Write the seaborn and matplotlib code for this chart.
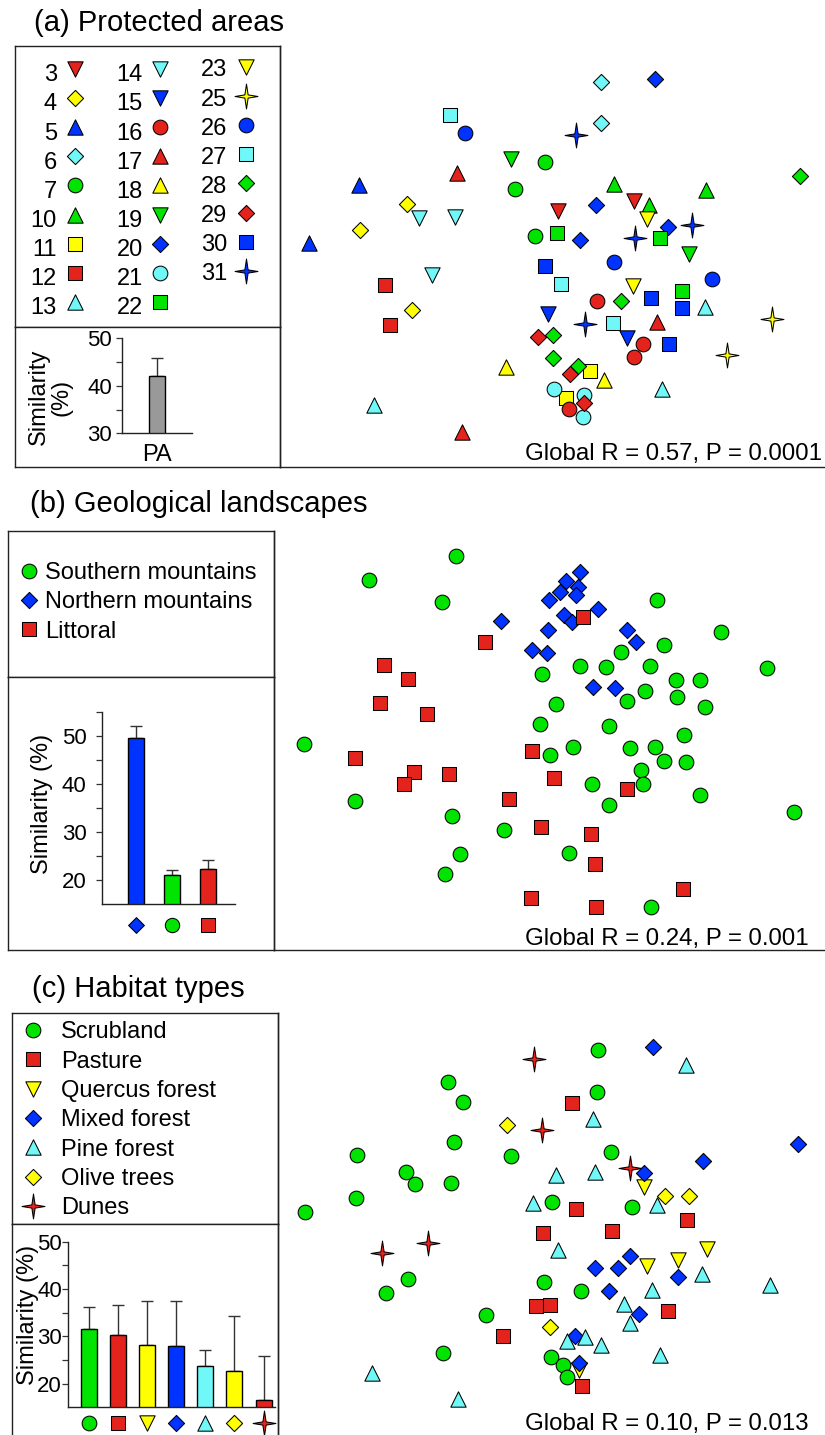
import numpy as np
import pandas as pd
import matplotlib
matplotlib.use('Agg')
import matplotlib.pyplot as plt
from matplotlib.path import Path
import seaborn as sns

# ---------------- data ----------------
# (a) protected areas: site label per point and nMDS coordinates
pa_labels = ['3', '4', '5', '6', '7', '10', '11', '12', '13', '14', '15', '16', '17',
             '18', '19', '20', '21', '22', '23', '25', '26', '27', '28', '29', '30', '31']
pa_site = ['3', '3', '4', '4', '4', '5', '5', '6', '6', '7', '7', '7', '10', '10', '10',
           '11', '11', '12', '12', '13', '13', '13', '14', '14', '14', '15', '15',
           '16', '16', '16', '16', '17', '17', '17', '18', '18', '19', '19',
           '20', '20', '20', '20', '21', '21', '21', '22', '22', '22', '23', '23',
           '25', '25', '26', '26', '26', '27', '27', '27', '28', '28', '28', '28', '28',
           '29', '29', '29', '30', '30', '30', '30', '31', '31', '31', '31']
pa_x = [2.78, 3.54, 1.27, 0.80, 1.32, 0.79, 0.29, 3.21, 3.21, 2.65, 2.35, 2.55, 3.34, 4.26, 3.69,
        3.10, 2.86, 1.05, 1.10, 4.25, 3.82, 0.94, 1.39, 1.75, 1.52, 2.68, 3.47,
        3.17, 3.63, 3.54, 2.89, 1.77, 3.77, 1.82, 2.26, 3.24, 2.31, 4.09,
        3.75, 3.16, 3.88, 3.00, 2.74, 3.04, 3.03, 2.77, 3.80, 4.02, 3.67, 3.53,
        4.92, 4.47, 1.85, 3.34, 4.32, 1.70, 2.81, 3.33, 5.20, 3.41, 2.73, 2.73, 2.98,
        2.58, 2.90, 3.04, 2.65, 3.71, 4.02, 3.89, 2.96, 4.12, 3.55, 3.05]
pa_y = [2.56, 2.66, 2.63, 2.37, 1.57, 2.82, 2.24, 3.85, 3.44, 3.05, 2.78, 2.31, 2.83, 2.77, 2.62,
        0.96, 0.69, 1.82, 1.42, 1.60, 0.78, 0.62, 2.49, 2.50, 1.92, 1.53, 1.29,
        1.66, 1.23, 1.10, 0.58, 2.94, 1.45, 0.35, 1.00, 0.87, 3.08, 2.13,
        3.88, 2.62, 2.40, 2.27, 0.78, 0.72, 0.50, 2.34, 2.29, 1.76, 2.48, 1.81,
        1.48, 1.12, 3.34, 2.05, 1.88, 3.52, 1.83, 1.44, 2.91, 1.66, 1.32, 1.09, 1.01,
        1.30, 0.93, 0.64, 2.01, 1.69, 1.59, 1.23, 3.32, 2.42, 2.29, 1.43]
pa_bar_cat = ['PA']
pa_bar_mean = [42.1]
pa_bar_err = [3.7]

# (b) geological landscapes
geo_labels = ['Southern mountains', 'Northern mountains', 'Littoral']
geo_south_x = [1.82, 0.95, 1.68, 3.83, 4.47, 3.90, 3.47, 3.06, 3.32, 3.76, 2.68, 4.93, 4.02, 4.26,
               3.71, 3.53, 4.03, 4.31, 2.82, 2.66, 3.35, 0.30, 4.10, 2.99, 3.56, 3.81, 2.76, 3.90,
               4.12, 3.67, 3.69, 3.18, 3.35, 4.26, 5.20, 0.81, 1.78, 2.30, 1.86, 2.95, 1.71, 3.77]
geo_south_y = [3.94, 3.70, 3.48, 3.50, 3.18, 3.05, 2.98, 2.84, 2.83, 2.84, 2.76, 2.82, 2.70, 2.70,
               2.59, 2.49, 2.53, 2.43, 2.46, 2.26, 2.24, 2.06, 2.15, 2.03, 2.02, 2.03, 1.95, 1.89,
               1.88, 1.80, 1.66, 1.66, 1.45, 1.55, 1.38, 1.49, 1.34, 1.20, 0.96, 0.97, 0.76, 0.43]
geo_north_x = [3.06, 2.92, 3.04, 2.86, 3.02, 2.75, 3.24, 2.27, 2.90, 2.98, 2.74, 3.53, 3.62,
               2.58, 2.73, 3.19, 3.41]
geo_north_y = [3.78, 3.69, 3.63, 3.58, 3.55, 3.50, 3.41, 3.29, 3.35, 3.28, 3.20, 3.20, 3.08,
               3.00, 2.97, 2.63, 2.62]
geo_litt_x = [3.09, 2.11, 1.10, 1.34, 1.06, 1.53, 2.58, 0.81, 1.40, 1.30, 1.75, 2.80, 3.53,
              2.35, 2.67, 3.17, 3.21, 2.57, 3.22, 4.09]
geo_litt_y = [3.33, 3.08, 2.85, 2.71, 2.47, 2.36, 1.99, 1.92, 1.78, 1.66, 1.76, 1.72, 1.61,
              1.51, 1.23, 1.16, 0.86, 0.52, 0.43, 0.61]
geo_bar_cat = ['Northern mountains', 'Southern mountains', 'Littoral']
geo_bar_mean = [49.7, 21.0, 22.3]
geo_bar_err = [2.5, 1.1, 2.0]

# (c) habitat types
hab_labels = ['Scrubland', 'Pasture', 'Quercus forest', 'Mixed forest', 'Pine forest',
              'Olive trees', 'Dunes']
hab_scrub_x = [3.20, 1.70, 3.19, 1.85, 1.76, 0.79, 2.33, 3.33, 1.28, 1.37, 1.73, 0.78, 0.27,
               2.74, 3.54, 1.30, 1.08, 2.66, 3.03, 2.08, 1.65, 2.73, 2.85, 2.89]
hab_scrub_y = [3.95, 3.63, 3.53, 3.43, 3.03, 2.90, 2.89, 2.93, 2.73, 2.61, 2.62, 2.47, 2.33,
               2.43, 2.38, 1.66, 1.52, 1.63, 1.54, 1.30, 0.92, 0.88, 0.80, 0.68]
hab_past_x = [2.94, 2.98, 2.65, 3.34, 4.09, 2.58, 2.72, 3.90, 2.25, 3.04]
hab_past_y = [3.42, 2.36, 2.12, 2.14, 2.25, 1.39, 1.40, 1.34, 1.09, 0.59]
hab_quer_x = [3.66, 3.69, 4.00, 4.29, 3.01]
hab_quer_y = [2.58, 1.79, 1.85, 1.96, 0.75]
hab_mixed_x = [3.75, 5.20, 4.25, 3.66, 3.52, 3.17, 3.40, 4.00, 3.31, 3.61, 2.97, 3.01]
hab_mixed_y = [3.98, 3.01, 2.84, 2.72, 1.89, 1.77, 1.77, 1.68, 1.54, 1.31, 1.09, 0.82]
hab_pine_x = [4.08, 3.15, 2.78, 3.17, 2.55, 3.79, 2.80, 4.24, 3.74, 4.92, 3.46, 3.52, 2.89,
              3.07, 3.23, 3.82, 0.94, 1.80]
hab_pine_y = [3.80, 3.26, 2.70, 2.73, 2.42, 2.40, 1.95, 1.71, 1.55, 1.60, 1.41, 1.22, 1.04,
              1.08, 1.00, 0.90, 0.72, 0.46]
hab_olive_x = [2.29, 3.87, 4.11, 2.72]
hab_olive_y = [3.20, 2.49, 2.49, 1.18]
hab_dune_x = [2.56, 2.64, 3.52, 1.04, 1.50]
hab_dune_y = [3.86, 3.15, 2.77, 1.92, 2.02]
hab_bar_mean = [31.6, 30.3, 28.2, 28.0, 23.8, 22.6, 16.5]
hab_bar_err = [4.5, 6.4, 9.2, 9.4, 3.3, 11.8, 9.3]

stats_text = ['Global R = 0.57, P = 0.0001', 'Global R = 0.24, P = 0.001',
              'Global R = 0.10, P = 0.013']
titles = ['(a) Protected areas', '(b) Geological landscapes', '(c) Habitat types']

# ---------------- style ----------------
sns.set_style('white')
plt.rcParams['font.family'] = ['Liberation Sans', 'DejaVu Sans']
plt.rcParams['axes.edgecolor'] = '#222222'
plt.rcParams['axes.linewidth'] = 1.0
plt.rcParams['text.color'] = 'black'
plt.rcParams['axes.labelcolor'] = 'black'
plt.rcParams['xtick.color'] = 'black'
plt.rcParams['ytick.color'] = 'black'
plt.rcParams['xtick.labelcolor'] = 'black'
plt.rcParams['ytick.labelcolor'] = 'black'

RED, GRN, BLU, CYN, YEL, GRY = '#E4231C', '#00E400', '#0033FF', '#70F8F8', '#FFFF00', '#999999'
STAR = Path([(0, 1), (0.13, 0.13), (0.92, 0), (0.13, -0.13), (0, -1), (-0.13, -0.13),
             (-0.92, 0), (-0.13, 0.13), (0, 1)],
            [Path.MOVETO] + [Path.LINETO] * 7 + [Path.CLOSEPOLY])
SIZES = {'o': 112, 's': 108, 'D': 68, '^': 122, 'v': 122, 'star': 320}


def mk(m):
    return STAR if m == 'star' else m


pa_style = {'3': (RED, 'v'), '4': (YEL, 'D'), '5': (BLU, '^'), '6': (CYN, 'D'), '7': (GRN, 'o'),
            '10': (GRN, '^'), '11': (YEL, 's'), '12': (RED, 's'), '13': (CYN, '^'),
            '14': (CYN, 'v'), '15': (BLU, 'v'), '16': (RED, 'o'), '17': (RED, '^'),
            '18': (YEL, '^'), '19': (GRN, 'v'), '20': (BLU, 'D'), '21': (CYN, 'o'),
            '22': (GRN, 's'), '23': (YEL, 'v'), '25': (YEL, 'star'), '26': (BLU, 'o'),
            '27': (CYN, 's'), '28': (GRN, 'D'), '29': (RED, 'D'), '30': (BLU, 's'),
            '31': (BLU, 'star')}
geo_style = {'Southern mountains': (GRN, 'o'), 'Northern mountains': (BLU, 'D'),
             'Littoral': (RED, 's')}
hab_style = {'Scrubland': (GRN, 'o'), 'Pasture': (RED, 's'), 'Quercus forest': (YEL, 'v'),
             'Mixed forest': (BLU, 'D'), 'Pine forest': (CYN, '^'), 'Olive trees': (YEL, 'D'),
             'Dunes': (RED, 'star')}

W, H = 825, 1435
fig = plt.figure(figsize=(W / 100, H / 100), dpi=100)


def add_ax(l, t, r, b):
    return fig.add_axes([l / W, 1 - b / H, (r - l) / W, (b - t) / H])


def box(l, t, r, b):
    ax = add_ax(l, t, r, b)
    ax.set_xticks([]); ax.set_yticks([])
    for s in ax.spines.values():
        s.set_color('#222222'); s.set_linewidth(1.0)
    return ax


def scat_ax(l, t, r, b, xmax, ymax):
    ax = add_ax(l, t, r, b)
    ax.set_facecolor('none')
    ax.set_xlim(0, xmax); ax.set_ylim(0, ymax)
    ax.set_xticks([]); ax.set_yticks([])
    ax.spines['top'].set_visible(False); ax.spines['right'].set_visible(False)
    return ax


def group_scatter(ax, x, y, color, m):
    sns.scatterplot(x=x, y=y, color=color, marker=mk(m), s=SIZES[m], edgecolor='black',
                    linewidth=0.75, ax=ax, legend=False, clip_on=False, zorder=3)


def bar_panel(ax, cats, means, errs, colors, width, ylim, ticks, xlim, pad):
    sns.barplot(x=cats, y=means, hue=cats, palette=colors, legend=False, width=width,
                edgecolor='black', linewidth=1.0, saturation=1, ax=ax, zorder=2)
    n = len(cats)
    ax.errorbar(np.arange(n), means, yerr=[np.zeros(n), errs], fmt='none', ecolor='#333333',
                elinewidth=1.0, capsize=4, capthick=1.0, zorder=1)
    ax.set_ylim(*ylim); ax.set_xlim(*xlim)
    ax.set_yticks(ticks)
    ax.set_yticklabels([str(t) if t % 10 == 0 else '' for t in ticks])
    ax.tick_params(axis='y', direction='out', length=4, width=0.9, color='#333333',
                   labelsize=16, labelcolor='black', pad=pad, left=True)
    ax.spines['top'].set_visible(False); ax.spines['right'].set_visible(False)
    ax.set_xlabel(''); ax.set_ylabel('')
    ax.set_facecolor('none')


# ================= panel (a) =================
box(15, 46, 280, 327.3)
box(15, 327.3, 280, 466.7)
axa = add_ax(122, 338.3, 191.7, 433.3)
bar_panel(axa, pa_bar_cat, pa_bar_mean, pa_bar_err, [GRY], 0.45, (30, 50),
          [30, 35, 40, 45, 50], (-1, 1), 3)
axa.set_xticks([0]); axa.set_xticklabels(['PA'])
axa.tick_params(axis='x', length=0, labelsize=17, labelcolor='black', pad=8)

sca = scat_ax(280, 46, 825, 466.7, 5.45, 4.207)
dfa = pd.DataFrame({'site': pa_site, 'x': pa_x, 'y': pa_y})
for lab in pa_labels:
    d = dfa[dfa['site'] == lab]
    c, m = pa_style[lab]
    group_scatter(sca, d['x'].tolist(), d['y'].tolist(), c, m)

# ================= panel (b) =================
box(8.3, 530.7, 274.3, 677.3)
box(8.3, 677.3, 274.3, 950)
axb = add_ax(101.7, 712.3, 235, 904.3)
bar_panel(axb, geo_bar_cat, geo_bar_mean, geo_bar_err, [geo_style[c][0] for c in geo_bar_cat],
          0.44, (15, 55), list(range(20, 56, 5)), (-0.96, 2.74), 7)
axb.set_xticks([])
for i, c in enumerate(geo_bar_cat):
    col, m = geo_style[c]
    axb.scatter([i], [-0.108], transform=axb.get_xaxis_transform(), marker=mk(m),
                s=SIZES[m] * 0.95, color=col, edgecolor='black', linewidth=0.75, clip_on=False)

scb = scat_ax(274, 530.7, 825, 950, 5.51, 4.193)
group_scatter(scb, geo_south_x, geo_south_y, *geo_style['Southern mountains'])
group_scatter(scb, geo_north_x, geo_north_y, *geo_style['Northern mountains'])
group_scatter(scb, geo_litt_x, geo_litt_y, *geo_style['Littoral'])

# ================= panel (c) =================
box(12.3, 1012.7, 277.8, 1224)
box(12.3, 1224, 277.8, 1450)
axc = add_ax(68.3, 1241.7, 275, 1407.3)
bar_panel(axc, hab_labels, hab_bar_mean, hab_bar_err, [hab_style[c][0] for c in hab_labels],
          0.55, (15, 50), list(range(20, 51, 5)), (-0.70, 6.39), 0.5)
axc.set_xticks([])
for i, c in enumerate(hab_labels):
    col, m = hab_style[c]
    axc.scatter([i], [-0.093], transform=axc.get_xaxis_transform(), marker=mk(m),
                s=SIZES[m], color=col, edgecolor='black', linewidth=0.75, clip_on=False)

scc = scat_ax(278, 1012.7, 825, 1445, 5.47, 4.323)
hab_xy = [(hab_scrub_x, hab_scrub_y), (hab_past_x, hab_past_y), (hab_quer_x, hab_quer_y),
          (hab_mixed_x, hab_mixed_y), (hab_pine_x, hab_pine_y), (hab_olive_x, hab_olive_y),
          (hab_dune_x, hab_dune_y)]
for lab, (xs, ys) in zip(hab_labels, hab_xy):
    group_scatter(scc, xs, ys, *hab_style[lab])

# ================= overlay: legends, titles, labels =================
ov = fig.add_axes([0, 0, 1, 1], zorder=10)
ov.set_xlim(0, W); ov.set_ylim(H, 0); ov.axis('off')
FS = 17
BASE = 8.4  # baseline offset from visual centre of capitals (px)


def glyph(x, y, color, m):
    ov.scatter([x], [y], marker=mk(m), s=SIZES[m], color=color, edgecolor='black',
               linewidth=0.75, clip_on=False)


# (a) legend, three columns
cols = [pa_labels[0:9], pa_labels[9:18], pa_labels[18:26]]
txt_right = [57, 143, 227]
mark_x = [75, 160, 246]
y0 = [73, 73, 68]
mdy = [-4, -4, -1]
for ci, col in enumerate(cols):
    for ri, lab in enumerate(col):
        yc = y0[ci] + 29.1 * ri
        ov.text(txt_right[ci], yc + BASE, lab, ha='right', va='baseline', fontsize=FS,
                color='black')
        c, m = pa_style[lab]
        glyph(mark_x[ci], yc + mdy[ci], c, m)

# (b) legend
for i, lab in enumerate(geo_labels):
    yc = 570.7 + 29.2 * i
    c, m = geo_style[lab]
    glyph(29, yc, c, m)
    ov.text(45, yc + BASE, lab, ha='left', va='baseline', fontsize=FS, color='black')

# (c) legend
for i, lab in enumerate(hab_labels):
    yc = 1030 + 29.3 * i
    c, m = hab_style[lab]
    glyph(33.3, yc, c, m)
    ov.text(60.7, yc + BASE, lab, ha='left', va='baseline', fontsize=FS, color='black')

# titles
for (x, y), t in zip([(34, 31), (29.5, 511.7), (32, 997)], titles):
    ov.text(x, y, t, ha='left', va='baseline', fontsize=21, color='black')

# stats
for y, t in zip([460, 945, 1430], stats_text):
    ov.text(525, y, t, ha='left', va='baseline', fontsize=17.3, color='black')

# bar y labels
ov.text(50, 397, 'Similarity\n(%)', rotation=90, ha='center', va='center', fontsize=FS,
        linespacing=1.0, multialignment='center', color='black')
ov.text(41.7, 804, 'Similarity (%)', rotation=90, ha='center', va='center', fontsize=FS,
        color='black')
ov.text(28.3, 1315, 'Similarity (%)', rotation=90, ha='center', va='center', fontsize=FS,
        color='black')

fig.savefig('out.png', dpi=100)
